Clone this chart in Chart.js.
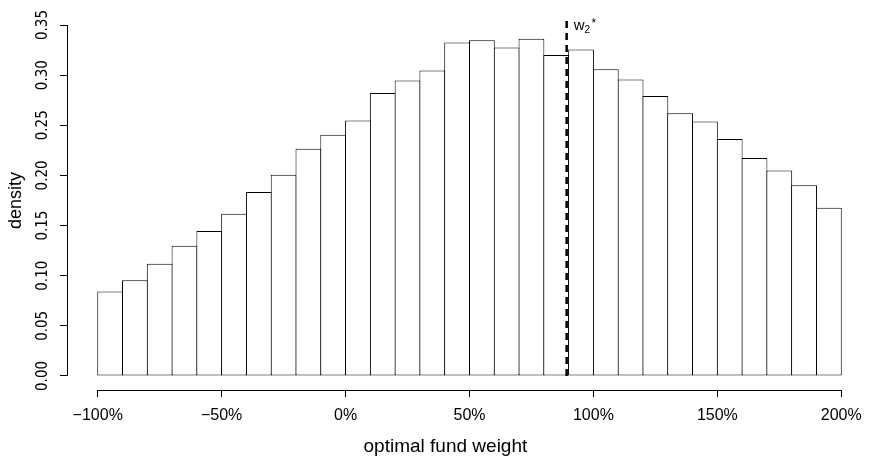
<!DOCTYPE html>
<html>
<head>
<meta charset="utf-8">
<script src="https://cdn.jsdelivr.net/npm/chart.js@4.4.1/dist/chart.umd.min.js"></script>
<style>
  html, body { margin: 0; padding: 0; background: #ffffff; }
  canvas { display: block; }
</style>
</head>
<body>
<canvas id="chart" width="873" height="459"></canvas>
<script>
// ---- data ----
const binMid = [-95, -85, -75, -65, -55, -45, -35, -25, -15, -5,
                5, 15, 25, 35, 45, 55, 65, 75, 85, 95,
                105, 115, 125, 135, 145, 155, 165, 175, 185, 195];
const density = [0.0842, 0.0955, 0.1120, 0.1298, 0.1447, 0.1619, 0.1836, 0.2007, 0.2266, 0.2406,
                 0.2548, 0.2823, 0.2946, 0.3047, 0.3325, 0.3348, 0.3276, 0.3364, 0.3202, 0.3257,
                 0.3060, 0.2956, 0.2791, 0.2620, 0.2538, 0.2363, 0.2173, 0.2050, 0.1901, 0.1677];
const xTickValues = [-100, -50, 0, 50, 100, 150, 200];
const xTickLabels = ['\u2212100%', '\u221250%', '0%', '50%', '100%', '150%', '200%'];
const yTickValues = [0, 0.05, 0.10, 0.15, 0.20, 0.25, 0.30, 0.35];
const yTickLabels = ['0.00', '0.05', '0.10', '0.15', '0.20', '0.25', '0.30', '0.35'];
const wStar = 89.2;          // optimal weight marker (percent)
const wLineTop = 0.355;      // top of the dashed marker (density units)
const xTitle = 'optimal fund weight';
const yTitle = 'density';

const SANS = '"Liberation Sans", Arial, Helvetica, sans-serif';
const NARROW = '"Liberation Sans Narrow", "DejaVu Sans Condensed", "Liberation Sans", Arial, sans-serif';

function alignPx(p) { return Math.round(p - 0.5) + 0.5; }

const rStylePlugin = {
  id: 'rStyle',
  afterDraw(chart) {
    const { ctx, chartArea } = chart;
    const xs = chart.scales.x, ys = chart.scales.y;
    ctx.save();
    ctx.strokeStyle = '#000';
    ctx.lineWidth = 1;
    // x axis line, spanning first to last tick
    const yb = Math.round(chartArea.bottom) + 0.5;
    ctx.beginPath();
    ctx.moveTo(alignPx(xs.getPixelForValue(xTickValues[0])) - 0.5, yb);
    ctx.lineTo(alignPx(xs.getPixelForValue(xTickValues[xTickValues.length - 1])) + 0.5, yb);
    ctx.stroke();
    // y axis line, spanning first to last tick
    const xl = Math.round(chartArea.left) - 0.5;
    ctx.beginPath();
    ctx.moveTo(xl, alignPx(ys.getPixelForValue(yTickValues[0])) + 0.5);
    ctx.lineTo(xl, alignPx(ys.getPixelForValue(yTickValues[yTickValues.length - 1])) - 0.5);
    ctx.stroke();

    // x axis title
    ctx.fillStyle = '#000';
    ctx.font = '19px ' + SANS;
    ctx.textAlign = 'center';
    ctx.textBaseline = 'alphabetic';
    ctx.fillText(xTitle, chartArea.left + 0.47 * (chartArea.right - chartArea.left), chartArea.bottom + 62);

    // w2* label next to the dashed line
    const px = xs.getPixelForValue(wStar) + 7;
    const py = ys.getPixelForValue(yTickValues[yTickValues.length - 1]);
    ctx.textAlign = 'left';
    ctx.font = '15px ' + SANS;
    ctx.fillText('w', px, py + 5);
    const ww = ctx.measureText('w').width;
    ctx.font = '10px ' + SANS;
    ctx.fillText('2', px + ww, py + 7.5);
    const w2 = ctx.measureText('2').width;
    ctx.font = '12px ' + SANS;
    ctx.fillText('*', px + ww + w2 + 1.5, py + 2);
    ctx.restore();
  }
};

new Chart(document.getElementById('chart'), {
  type: 'bar',
  data: {
    datasets: [
      {
        type: 'line',
        label: 'w2*',
        data: [{ x: wStar, y: 0 }, { x: wStar, y: wLineTop }],
        borderColor: '#000',
        borderWidth: 2.5,
        borderDash: [7, 5],
        borderCapStyle: 'butt',
        pointRadius: 0,
        fill: false,
        tension: 0,
        order: 0
      },
      {
        type: 'bar',
        label: yTitle,
        data: binMid.map((m, i) => ({ x: m, y: density[i] })),
        backgroundColor: '#ffffff',
        borderColor: '#000',
        borderWidth: 1,
        borderSkipped: false,
        barPercentage: 1.04,
        categoryPercentage: 1,
        order: 1
      }
    ]
  },
  options: {
    responsive: false,
    animation: false,
    devicePixelRatio: 1,
    layout: { padding: { left: 0, right: 2, top: 1, bottom: 0 } },
    plugins: { legend: { display: false }, tooltip: { enabled: false } },
    scales: {
      x: {
        type: 'linear',
        offset: false,
        min: -112,
        max: 212,
        afterBuildTicks: (s) => { s.ticks = xTickValues.map(v => ({ value: v })); },
        afterFit: (s) => { s.height = 69; },
        ticks: {
          callback: (v, i) => xTickLabels[i],
          font: { family: SANS, size: 16 },
          color: '#000',
          padding: 9,
          maxRotation: 0,
          autoSkip: false
        },
        grid: { display: true, offset: false, drawOnChartArea: false, drawTicks: true, tickLength: 7, color: '#000', lineWidth: 1 },
        border: { display: false },
        title: { display: false }
      },
      y: {
        type: 'linear',
        min: -0.014,
        max: 0.364,
        afterBuildTicks: (s) => { s.ticks = yTickValues.map(v => ({ value: v })); },
        afterFit: (s) => { s.width = 68; },
        ticks: {
          callback: (v, i) => yTickLabels[i],
          font: { family: NARROW, size: 15 },
          color: '#000',
          padding: 2,
          minRotation: 90,
          maxRotation: 90,
          crossAlign: 'center',
          autoSkip: false
        },
        grid: { display: true, drawOnChartArea: false, drawTicks: true, tickLength: 8, color: '#000', lineWidth: 1 },
        border: { display: false },
        title: {
          display: true,
          text: yTitle,
          font: { family: SANS, size: 18 },
          color: '#000',
          padding: { top: 5, bottom: 0 }
        }
      }
    }
  },
  plugins: [rStylePlugin]
});
</script>
</body>
</html>
